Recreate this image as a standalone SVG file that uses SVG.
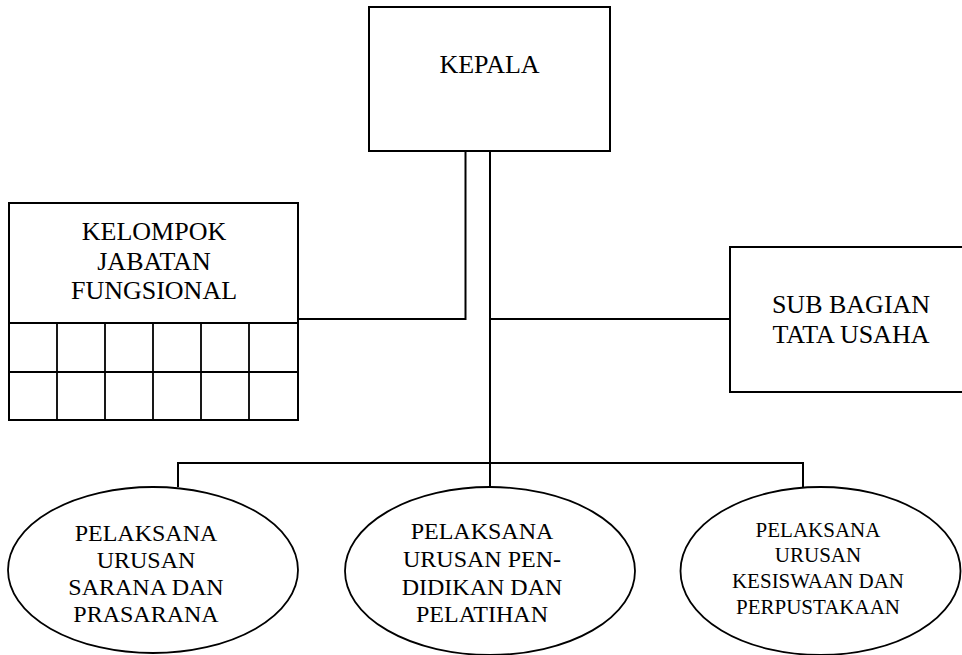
<svg xmlns="http://www.w3.org/2000/svg" width="962" height="655" viewBox="0 0 962 655">
<style>
.box{fill:#fff;stroke:#000;stroke-width:2}
.ell{fill:#fff;stroke:#000;stroke-width:1.8}
.ln{fill:none;stroke:#000;stroke-width:2}
.grid{fill:none;stroke:#000;stroke-width:1.8}
text{fill:#000;text-anchor:middle}
.t26{font-size:26px}
.t24{font-size:24px}
.t21{font-size:21px}
</style>
<rect width="962" height="655" fill="#fff"/>
<g id="connectors">
<path class="ln" d="M465.5 151 V319 H298"/>
<path class="ln" d="M490 151 V487"/>
<path class="ln" d="M490 319 H730"/>
<path class="ln" d="M178 487 V463 H803 V487"/>
</g>
<g font-family="'Liberation Serif', 'Times New Roman', Times, serif">
<g id="kepala">
<rect class="box" x="369" y="7" width="241" height="144"/>
<text class="t26" x="489.5" y="73">KEPALA</text>
</g>
<g id="kelompok">
<rect class="box" x="9" y="203" width="289" height="217"/>
<path class="grid" d="M9 323 H298 M9 372 H298 M57 323 V420 M105 323 V420 M153 323 V420 M201 323 V420 M249 323 V420"/>
<text class="t26" x="154" y="240">KELOMPOK</text>
<text class="t26" x="154" y="270">JABATAN</text>
<text class="t26" x="154" y="299">FUNGSIONAL</text>
</g>
<g id="subbagian">
<rect class="box" x="730" y="247" width="250" height="145"/>
<text class="t26" x="851" y="313">SUB BAGIAN</text>
<text class="t26" x="851" y="343">TATA USAHA</text>
</g>
<g id="sarana">
<ellipse class="ell" cx="153" cy="570" rx="145" ry="83"/>
<text class="t24" x="146" y="541">PELAKSANA</text>
<text class="t24" x="146" y="568">URUSAN</text>
<text class="t24" x="146" y="595">SARANA DAN</text>
<text class="t24" x="146" y="622">PRASARANA</text>
</g>
<g id="pendidikan">
<ellipse class="ell" cx="490" cy="571" rx="145" ry="84"/>
<text class="t24" x="482" y="539">PELAKSANA</text>
<text class="t24" x="482" y="567">URUSAN PEN-</text>
<text class="t24" x="482" y="595">DIDIKAN DAN</text>
<text class="t24" x="482" y="622">PELATIHAN</text>
</g>
<g id="kesiswaan">
<ellipse class="ell" cx="820.5" cy="571" rx="140" ry="84"/>
<text class="t21" x="818" y="537">PELAKSANA</text>
<text class="t21" x="818" y="562">URUSAN</text>
<text class="t21" x="818" y="588">KESISWAAN DAN</text>
<text class="t21" x="818" y="614">PERPUSTAKAAN</text>
</g>
</g>
</svg>
